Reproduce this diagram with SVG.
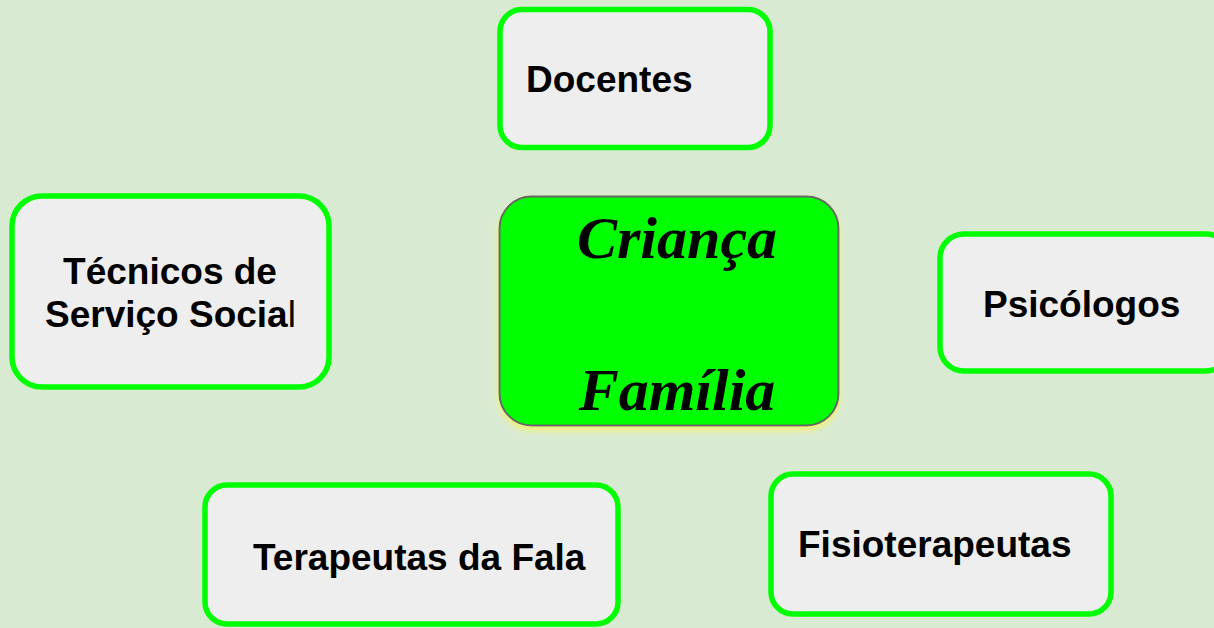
<svg xmlns="http://www.w3.org/2000/svg" width="1214" height="628" viewBox="0 0 1214 628">
<defs>
<style>
.box{fill:#eeeeee;stroke:#00ff00;stroke-width:5.5}
.lbl{font-family:"Liberation Sans",Arial,sans-serif;font-weight:bold;font-size:37px;fill:#000}
.core{fill:#00ff00;stroke:#666666;stroke-width:2}
.script{font-family:"Liberation Serif","Times New Roman",serif;font-weight:bold;font-style:italic;font-size:60px;fill:#000;text-anchor:middle}
</style>
<filter id="glow" x="-10%" y="-10%" width="120%" height="130%">
<feDropShadow dx="0" dy="4" stdDeviation="3" flood-color="#f4f46a" flood-opacity="0.9"/>
</filter>
</defs>
<rect width="1214" height="628" fill="#d9ead3"/>
<g id="connectors"></g>
<g id="node-docentes">
<rect class="box" x="500" y="9.5" width="270" height="138" rx="22"/>
<text class="lbl" x="526" y="92">Docentes</text>
</g>
<g id="node-tecnicos">
<rect class="box" x="12" y="196" width="317" height="191" rx="30"/>
<text class="lbl" x="170" y="284" text-anchor="middle">Técnicos de</text>
<text class="lbl" x="45" y="327">Serviço Socia<tspan font-weight="normal">l</tspan></text>
</g>
<g id="node-centro">
<rect class="core" x="499.5" y="196.5" width="339" height="229" rx="32" filter="url(#glow)"/>
<text class="script" x="677" y="258">Criança</text>
<text class="script" x="677" y="410">Família</text>
</g>
<g id="node-psicologos">
<rect class="box" x="940" y="234" width="290" height="137" rx="24"/>
<text class="lbl" x="983" y="317">Psicólogos</text>
</g>
<g id="node-terapeutas">
<rect class="box" x="205" y="485" width="413" height="139" rx="22"/>
<text class="lbl" x="253" y="570">Terapeutas da Fala</text>
</g>
<g id="node-fisioterapeutas">
<rect class="box" x="771" y="474" width="340" height="140" rx="22"/>
<text class="lbl" x="798" y="557">Fisioterapeutas</text>
</g>
</svg>
